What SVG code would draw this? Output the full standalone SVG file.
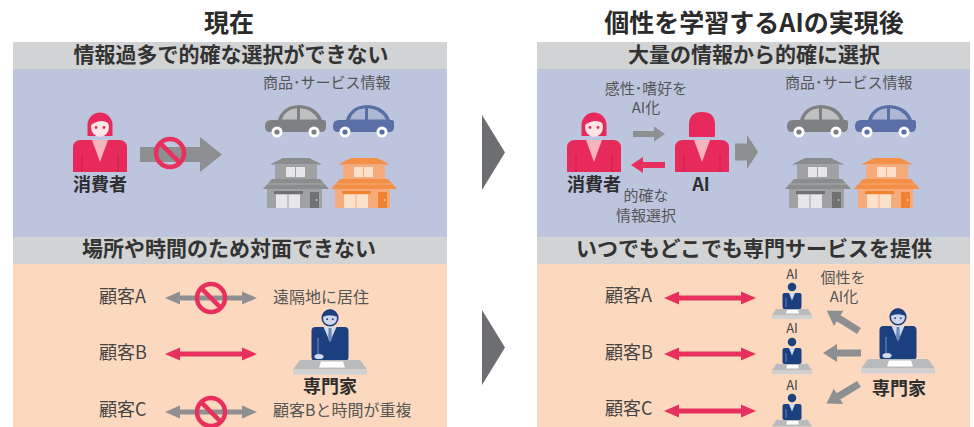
<svg xmlns="http://www.w3.org/2000/svg" width="974" height="427" viewBox="0 0 974 427">
<style>
  text{font-family:"Noto Sans CJK JP","Noto Sans",sans-serif;fill:#333}
  .title{font-size:25px;font-weight:700;text-anchor:middle;fill:#2b2b2b}
  .band{font-size:21px;font-weight:700;text-anchor:middle;fill:#333}
  .lbl{font-size:18px;font-weight:700;text-anchor:middle;fill:#2e2e2e}
  .note{font-size:15px;fill:#555}
  .mid{text-anchor:middle}
  .cust{font-size:18px;fill:#444}
  .ai{font-size:13px;fill:#444;text-anchor:middle}
  .gray-arrow{fill:#8e8f91}
  .pink-arrow{fill:#e8305e}
  .chev{fill:#6d6e71}
</style>
<defs>
  <!-- car: body colour comes from the car custom property -->
  <g id="car">
    <path d="M0,21 Q0,15 6,15 L13,15 Q17,1 34,0 Q52,1 57,15 L59,15 Q61,15 61,18 L61,22 Q61,27 56,27 L5,27 Q0,27 0,22 Z" style="fill:var(--car)"/>
    <path d="M17,14.5 Q20,4 32,3.2 L32,14.5 Z M35,3.2 Q48,4 53,14.5 L35,14.5 Z" fill="#fff" opacity="0.5"/>
    <circle cx="12" cy="27" r="5.5" fill="#fff"/>
    <circle cx="12" cy="27" r="2.6" style="fill:var(--car)"/>
    <circle cx="49" cy="27" r="5.5" fill="#fff"/>
    <circle cx="49" cy="27" r="2.6" style="fill:var(--car)"/>
  </g>
  <!-- two-storey house -->
  <g id="house">
    <path d="M20,0 L46,0 L59,6.5 L7,6.5 Z" style="fill:var(--roof)"/>
    <rect x="12" y="6.5" width="42" height="14.5" style="fill:var(--body)"/>
    <rect x="23" y="9" width="19" height="10" style="fill:var(--light)"/>
    <path d="M32.5,9 V19" style="stroke:var(--body)" stroke-width="1"/>
    <path d="M9,21 L57,21 L66,31 L0,31 Z" style="fill:var(--roof)"/>
    <path d="M5,26 H61" style="stroke:var(--light)" stroke-width="0.6" opacity="0.6"/>
    <rect x="4" y="31" width="55" height="19" style="fill:var(--body)"/>
    <rect x="11" y="33" width="29" height="3" style="fill:var(--dark)"/>
    <rect x="13" y="36.5" width="24" height="13.5" style="fill:var(--light)"/>
    <path d="M25,36.5 V50" style="stroke:var(--body)" stroke-width="1"/>
    <rect x="47" y="34" width="9" height="16" style="fill:var(--dark)"/>
    <circle cx="53.5" cy="42" r="0.8" fill="#fff"/>
  </g>
  <!-- consumer (woman with face) -->
  <g id="consumer">
    <path d="M-27,47 L-27,23 Q-27,15 -19,15 L19,15 Q27,15 27,23 L27,47 Z" fill="#e72a5b"/>
    <path d="M-8,15 L8,15 L0,37 Z" fill="#f7b4bf"/>
    <path d="M-18,30 V47 M18,30 V47" stroke="#c81f4b" stroke-width="1"/>
    <path d="M-12.5,11 L-12.5,0 A12.5,12.5 0 0 1 12.5,0 L12.5,11 Z" fill="#e72a5b"/>
    <ellipse cx="0" cy="2" rx="9" ry="10" fill="#fde5e8"/>
    <path d="M-9,0 C-8,-8 -2,-9.5 4,-8.8 C8,-7.8 9.8,-4 9.2,-1 C5,-5 -2,-5 -9,0 Z" fill="#e72a5b"/>
    <circle cx="-4" cy="2.5" r="1.4" fill="#e72a5b"/>
    <circle cx="4" cy="2.5" r="1.4" fill="#e72a5b"/>
  </g>
  <!-- AI silhouette -->
  <g id="ai-figure">
    <path d="M-27,47 L-27,23 Q-27,15 -19,15 L19,15 Q27,15 27,23 L27,47 Z" fill="#e72a5b"/>
    <path d="M-8,15 L8,15 L0,37 Z" fill="#f7b4bf"/>
    <path d="M-18,30 V47 M18,30 V47" stroke="#c81f4b" stroke-width="1"/>
    <path d="M-13,12 L-13,0 Q-13,-13 0,-13 Q13,-13 13,0 L13,12 Z" fill="#e72a5b"/>
  </g>
  <!-- expert at desk -->
  <g id="expert">
    <rect x="-18.5" y="9" width="37" height="34" rx="4" fill="#1c3f7f"/>
    <path d="M-6.5,9 L6.5,9 L0,24 Z" fill="#d3dbef"/>
    <path d="M-1.4,10 L1.4,10 L1.9,21 L0,24 L-1.9,21 Z" fill="#6f86b8"/>
    <path d="M-12,20 V37" stroke="#7f93c0" stroke-width="1"/>
    <ellipse cx="-11" cy="38.5" rx="4.5" ry="2.6" fill="#d3dbef"/>
    <circle r="7.8" fill="#cdd6ec" stroke="#1c3f7f" stroke-width="1.6"/>
    <path d="M-7.8,-1 A7.8,7.8 0 0 1 7.8,-1 Q0,-4.5 -7.8,-1 Z" fill="#1c3f7f"/>
    <circle cx="-2.8" cy="1.2" r="0.9" fill="#1c3f7f"/>
    <circle cx="2.8" cy="1.2" r="0.9" fill="#1c3f7f"/>
    <path d="M-30,42 L30,42 L37,51.5 L-37,51.5 Z" fill="#b9babc"/>
    <rect x="-37" y="51.5" width="74" height="5" fill="#d0d1d3"/>
    <path d="M-9,43.5 L13,43.5 L15,49.5 L-11,49.5 Z" fill="#fff"/>
  </g>
  <!-- small AI expert at desk -->
  <g id="ai-expert">
    <rect x="-9.5" y="6" width="19" height="16" rx="2" fill="#1c3f7f"/>
    <path d="M-3,6 L3,6 L0,13.5 Z" fill="#d3dbef"/>
    <path d="M-6,11 V20" stroke="#7f93c0" stroke-width="0.8"/>
    <circle r="4.3" fill="#1c3f7f"/>
    <path d="M-16,22 L16,22 L20,28.5 L-20,28.5 Z" fill="#b9babc"/>
    <rect x="-20" y="28.5" width="40" height="3.5" fill="#d0d1d3"/>
    <path d="M-5,23 L6,23 L7,26.5 L-6,26.5 Z" fill="#fff"/>
  </g>
  <!-- prohibition sign -->
  <g id="no-sign" fill="none" stroke="#e8305e" stroke-width="4.5">
    <circle r="14"/>
    <path d="M-9.9,-9.9 L9.9,9.9"/>
  </g>
  <!-- double-headed arrow, 92 wide -->
  <path id="dbl" d="M0,0 L15,-6.5 L15,-2.5 L77,-2.5 L77,-6.5 L92,0 L77,6.5 L77,2.5 L15,2.5 L15,6.5 Z"/>
  <!-- thick single arrow pointing along +x, 38 long -->
  <path id="fat" d="M0,-3.6 L24,-3.6 L24,-9 L38,0 L24,9 L24,3.6 L0,3.6 Z"/>
</defs>

<rect width="974" height="427" fill="#fff"/>

<!-- titles -->
<text class="title" x="229" y="32">現在</text>
<text class="title" x="754" y="32">個性を学習するAIの実現後</text>

<!-- panel backgrounds -->
<g id="panels">
  <rect x="13" y="42" width="434" height="27" fill="#d2d3d5"/>
  <rect x="13" y="69" width="434" height="168" fill="#bcc4de"/>
  <rect x="13" y="237" width="434" height="27" fill="#d2d3d5"/>
  <rect x="13" y="264" width="434" height="163" fill="#fcd9be"/>
  <rect x="537" y="42" width="433" height="27" fill="#d2d3d5"/>
  <rect x="537" y="69" width="433" height="168" fill="#bcc4de"/>
  <rect x="537" y="237" width="433" height="27" fill="#d2d3d5"/>
  <rect x="537" y="264" width="433" height="163" fill="#fcd9be"/>
</g>

<text class="band" x="231" y="62">情報過多で的確な選択ができない</text>
<text class="band" x="754" y="62">大量の情報から的確に選択</text>
<text class="band" x="229" y="256">場所や時間のため対面できない</text>
<text class="band" x="754" y="256">いつでもどこでも専門サービスを提供</text>

<!-- chevrons between columns -->
<g id="chevrons">
  <polygon class="chev" points="482,115 505,152.5 482,190"/>
  <polygon class="chev" points="482,310 505,347.5 482,385"/>
</g>

<!-- top left -->
<g id="consumer-left">
  <use href="#consumer" x="100" y="125"/>
  <text class="lbl" x="100" y="191">消費者</text>
</g>
<g id="goods-left">
  <text class="note" x="263" y="88">商品･サービス情報</text>
  <use href="#car" x="265" y="105" style="--car:#7f8083"/>
  <use href="#car" x="333" y="105" style="--car:#5a6ea7"/>
  <use href="#house" x="263" y="158" style="--roof:#8b8c8e;--body:#a0a1a3;--light:#e7e7e9;--dark:#707173"/>
  <use href="#house" x="331" y="158" style="--roof:#f48f48;--body:#f8ab7a;--light:#fde2cb;--dark:#f0832f"/>
</g>

<!-- top right -->
<g id="consumer-right">
  <use href="#consumer" x="594" y="125"/>
  <text class="lbl" x="594" y="191">消費者</text>
</g>
<g id="ai-node">
  <use href="#ai-figure" x="702" y="125"/>
  <text class="lbl" x="701" y="191">AI</text>
</g>
<g id="goods-right">
  <text class="note" x="785" y="88">商品･サービス情報</text>
  <use href="#car" x="787" y="105" style="--car:#7f8083"/>
  <use href="#car" x="855" y="105" style="--car:#5a6ea7"/>
  <use href="#house" x="785" y="158" style="--roof:#8b8c8e;--body:#a0a1a3;--light:#e7e7e9;--dark:#707173"/>
  <use href="#house" x="854" y="158" style="--roof:#f48f48;--body:#f8ab7a;--light:#fde2cb;--dark:#f0832f"/>
</g>
<text class="note mid" x="646" y="94">感性･嗜好を</text>
<text class="note mid" x="646" y="113">AI化</text>
<text class="note mid" x="646" y="201">的確な</text>
<text class="note mid" x="646" y="221">情報選択</text>

<!-- bottom left -->
<g id="customers-left">
  <text class="cust" x="99" y="303">顧客A</text>
  <text class="cust" x="99" y="359">顧客B</text>
  <text class="cust" x="99" y="416">顧客C</text>
</g>
<text class="note" x="273" y="303" style="font-size:16px">遠隔地に居住</text>
<text class="note" x="273" y="416" style="font-size:16px">顧客Bと時間が重複</text>
<g id="expert-left">
  <use href="#expert" x="330" y="318"/>
  <text class="lbl" x="330" y="393">専門家</text>
</g>

<!-- bottom right -->
<g id="customers-right">
  <text class="cust" x="605" y="302">顧客A</text>
  <text class="cust" x="605" y="359">顧客B</text>
  <text class="cust" x="605" y="415">顧客C</text>
</g>
<g id="ai-experts">
  <text class="ai" x="792" y="279">AI</text>
  <use href="#ai-expert" x="792" y="287"/>
  <text class="ai" x="792" y="333">AI</text>
  <use href="#ai-expert" x="792" y="342"/>
  <text class="ai" x="792" y="390">AI</text>
  <use href="#ai-expert" x="792" y="398"/>
</g>
<text class="note mid" x="843" y="283">個性を</text>
<text class="note mid" x="844" y="302">AI化</text>
<g id="expert-right">
  <use href="#expert" x="898" y="317"/>
  <text class="lbl" x="899" y="395">専門家</text>
</g>

<!-- connectors -->
<g id="connectors">
  <path class="gray-arrow" d="M140,147 L200,147 L200,137 L222,154.5 L200,172 L200,162 L140,162 Z"/>
  <use href="#no-sign" x="170" y="153"/>

  <path class="gray-arrow" d="M633,131 L654,131 L654,126.5 L665,134 L654,141.5 L654,137 L633,137 Z"/>
  <path class="pink-arrow" d="M631,165 L643,157 L643,162 L665,162 L665,168 L643,168 L643,173 Z"/>
  <path class="gray-arrow" d="M735,143.5 L747,143.5 L747,135 L758,152 L747,169 L747,160.5 L735,160.5 Z"/>

  <use href="#dbl" class="gray-arrow" x="165" y="298"/>
  <use href="#no-sign" x="211" y="298"/>
  <use href="#dbl" class="pink-arrow" x="165" y="354"/>
  <use href="#dbl" class="gray-arrow" x="165" y="412"/>
  <use href="#no-sign" x="211" y="412"/>

  <use href="#dbl" class="pink-arrow" x="664" y="298"/>
  <use href="#dbl" class="pink-arrow" x="664" y="354"/>
  <use href="#dbl" class="pink-arrow" x="664" y="411"/>

  <use href="#fat" class="gray-arrow" transform="translate(859,331) rotate(212)"/>
  <use href="#fat" class="gray-arrow" transform="translate(861,353) rotate(180)"/>
  <use href="#fat" class="gray-arrow" transform="translate(859,384) rotate(149)"/>
</g>
</svg>
